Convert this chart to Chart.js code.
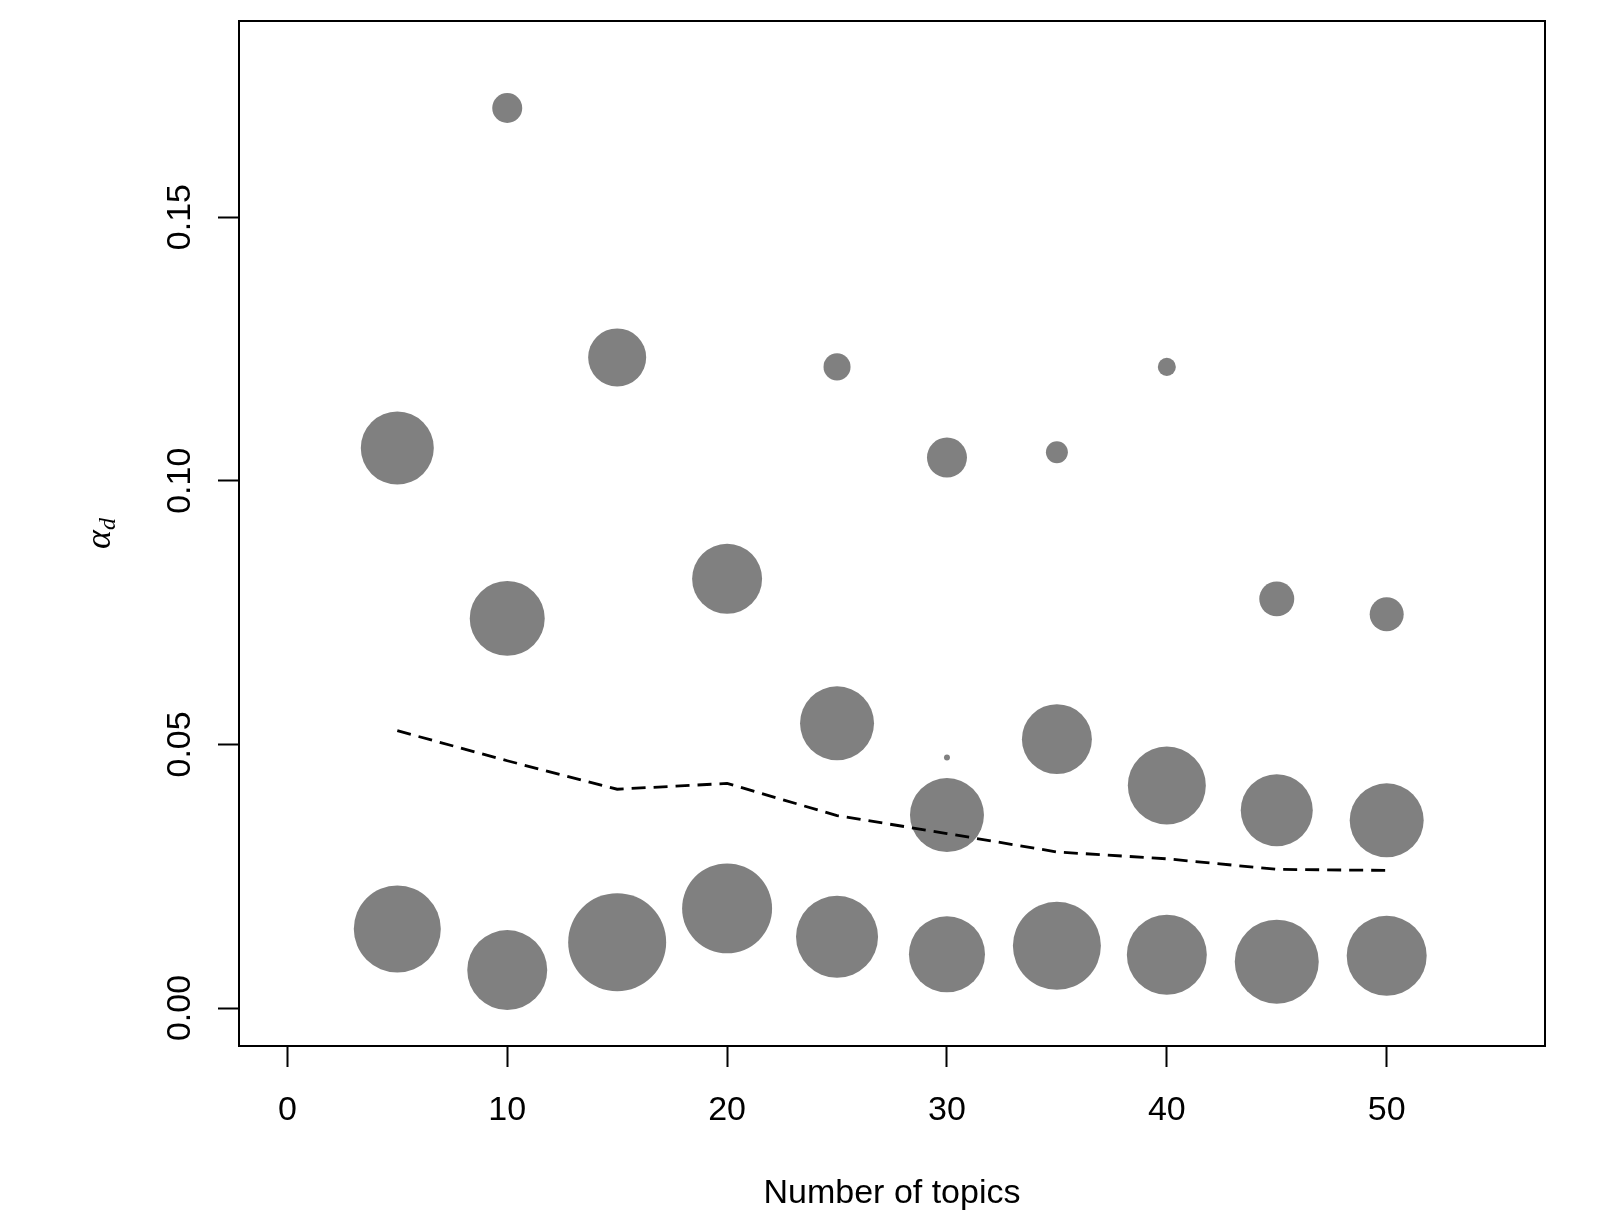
<!DOCTYPE html>
<html>
<head>
<meta charset="utf-8">
<script src="https://cdn.jsdelivr.net/npm/chart.js@4/dist/chart.umd.min.js"></script>
<style>
  html, body { margin: 0; padding: 0; background: #fff; }
  canvas { display: block; }
</style>
</head>
<body>
<canvas id="chart" width="1615" height="1225"></canvas>
<script>
// Data
const bubbleTopics = [5, 5, 10, 10, 10, 15, 15, 20, 20, 25, 25, 25, 30, 30, 30, 30, 35, 35, 35, 40, 40, 40, 45, 45, 45, 50, 50, 50];
const bubbleAlpha = [0.1062, 0.0150, 0.1707, 0.0739, 0.0072, 0.1234, 0.0125, 0.0814, 0.0189, 0.1216, 0.0540, 0.0135,
    0.1044, 0.0475, 0.0366, 0.0102, 0.1054, 0.0510, 0.0118, 0.1216, 0.0422, 0.0101, 0.0776, 0.0375, 0.0088, 0.0747, 0.0356, 0.0099];
// relative bubble size (largest = 1)
const bubbleWeight = [0.745, 0.888, 0.306, 0.765, 0.816, 0.592, 1.0, 0.714, 0.918, 0.276, 0.755, 0.837,
    0.408, 0.061, 0.755, 0.776, 0.224, 0.714, 0.898, 0.184, 0.796, 0.816, 0.357, 0.735, 0.857, 0.347, 0.755, 0.816];

const lineTopics = [5, 10, 15, 20, 25, 30, 35, 40, 45, 50];
const lineAlpha = [0.0526, 0.0469, 0.0415, 0.0426, 0.0365, 0.0331, 0.0296, 0.0283, 0.0263, 0.0261];

const xTicks = [0, 10, 20, 30, 40, 50];
const yTicks = [0, 0.05, 0.10, 0.15];
const yTickLabels = ["0.00", "0.05", "0.10", "0.15"];
const xTitle = "Number of topics";

// Style
const MAX_RADIUS = 49;
const FONT = "34px 'Liberation Sans', Arial, sans-serif";

// Frame, y tick labels and axis titles
const framePlugin = {
    id: "frame",
    afterDraw(chart) {
        const { ctx, chartArea, scales } = chart;
        ctx.save();
        ctx.strokeStyle = "#000";
        ctx.lineWidth = 2;
        ctx.strokeRect(chartArea.left, chartArea.top, chartArea.right - chartArea.left, chartArea.bottom - chartArea.top);

        // y tick labels, rotated
        ctx.fillStyle = "#000";
        ctx.font = FONT;
        ctx.textAlign = "center";
        ctx.textBaseline = "alphabetic";
        yTicks.forEach((v, i) => {
            const py = scales.y.getPixelForValue(v);
            ctx.save();
            ctx.translate(190, py);
            ctx.rotate(-Math.PI / 2);
            ctx.fillText(yTickLabels[i], 0, 0);
            ctx.restore();
        });

        // x title
        ctx.fillText(xTitle, (chartArea.left + chartArea.right) / 2, 1203);

        // y title: alpha with subscript d
        const midY = (chartArea.top + chartArea.bottom) / 2;
        ctx.save();
        ctx.translate(110, midY);
        ctx.rotate(-Math.PI / 2);
        ctx.font = "italic 36px 'Liberation Serif', 'DejaVu Serif', serif";
        const aW = ctx.measureText("\u03b1").width;
        ctx.font = "italic 24px 'Liberation Serif', 'DejaVu Serif', serif";
        const dW = ctx.measureText("d").width;
        const start = -(aW + dW) / 2;
        ctx.textAlign = "left";
        ctx.font = "italic 36px 'Liberation Serif', 'DejaVu Serif', serif";
        ctx.fillText("\u03b1", start, 0);
        ctx.font = "italic 24px 'Liberation Serif', 'DejaVu Serif', serif";
        ctx.fillText("d", start + aW, 5);
        ctx.restore();

        ctx.restore();
    }
};

const bubbles = bubbleTopics.map((t, i) => ({ x: t, y: bubbleAlpha[i], r: bubbleWeight[i] * MAX_RADIUS }));
const linePoints = lineTopics.map((t, i) => ({ x: t, y: lineAlpha[i] }));

new Chart(document.getElementById("chart"), {
    type: "bubble",
    data: {
        datasets: [
            {
                type: "line",
                data: linePoints,
                borderColor: "#000",
                borderWidth: 2.8,
                borderDash: [14, 8],
                pointRadius: 0,
                fill: false,
                tension: 0,
                order: 0
            },
            {
                type: "bubble",
                data: bubbles,
                backgroundColor: "#808080",
                borderWidth: 0,
                hoverRadius: 0,
                order: 1
            }
        ]
    },
    options: {
        responsive: false,
        animation: false,
        events: [],
        layout: { autoPadding: false, padding: { top: 21, right: 70, left: 0, bottom: 0 } },
        plugins: {
            legend: { display: false },
            tooltip: { enabled: false }
        },
        scales: {
            x: {
                type: "linear",
                min: -2.2,
                max: 57.2,
                afterBuildTicks: (scale) => { scale.ticks = xTicks.map(v => ({ value: v })); },
                afterFit: (scale) => { scale.height = 179; },
                border: { display: false },
                grid: {
                    drawOnChartArea: false,
                    drawTicks: true,
                    tickLength: 21,
                    tickWidth: 2,
                    tickColor: "#000"
                },
                ticks: {
                    autoSkip: false,
                    maxRotation: 0,
                    padding: 23,
                    color: "#000",
                    font: { family: "'Liberation Sans', Arial, sans-serif", size: 34 },
                    callback: (v) => String(v)
                }
            },
            y: {
                type: "linear",
                min: -0.0072,
                max: 0.1872,
                afterBuildTicks: (scale) => { scale.ticks = yTicks.map(v => ({ value: v })); },
                afterFit: (scale) => { scale.width = 239; },
                border: { display: false },
                grid: {
                    drawOnChartArea: false,
                    drawTicks: true,
                    tickLength: 21,
                    tickWidth: 2,
                    tickColor: "#000"
                },
                ticks: { display: false }
            }
        }
    },
    plugins: [framePlugin]
});
</script>
</body>
</html>
